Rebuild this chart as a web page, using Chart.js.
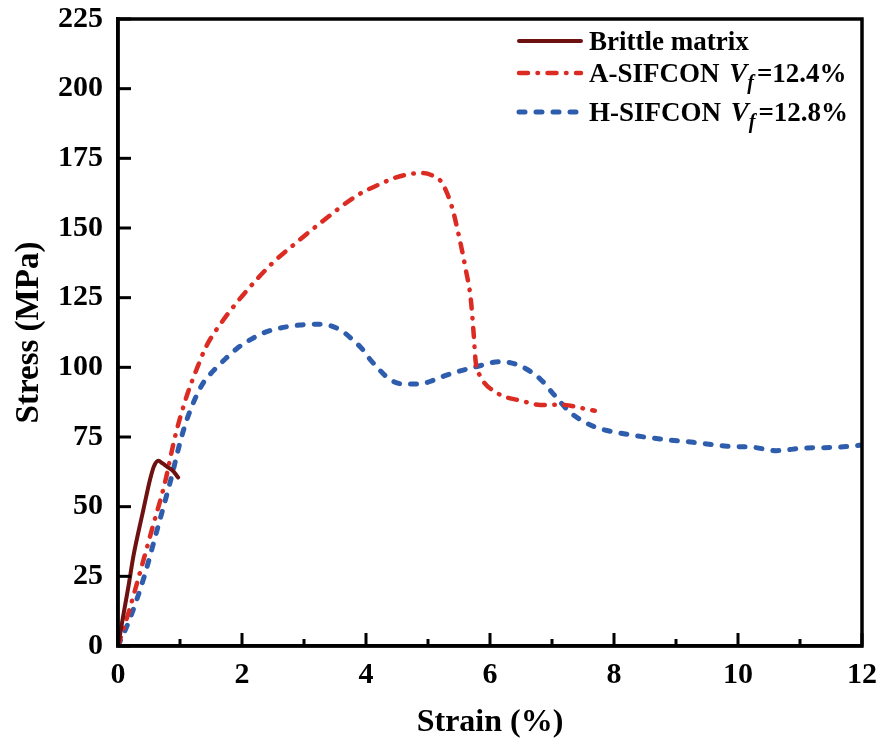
<!DOCTYPE html>
<html><head><meta charset="utf-8">
<script src="https://cdn.jsdelivr.net/npm/chart.js@4.4.0/dist/chart.umd.min.js"></script>
<style>html,body{margin:0;padding:0;background:#fff;}#wrap{width:879px;height:744px;}</style>
</head><body><div id="wrap"><canvas id="c" width="879" height="744"></canvas></div>
<script>
// ---- data ----
const xMajorTicks = [0, 2, 4, 6, 8, 10, 12];
const xMinorTicks = [1, 3, 5, 7, 9, 11];
const yMajorTicks = [0, 25, 50, 75, 100, 125, 150, 175, 200, 225];

const seriesNames = ['Brittle matrix', 'A-SIFCON', 'H-SIFCON'];
const seriesVf = ['', '12.4%', '12.8%'];

const brittleStrain = [0, 0.085, 0.17, 0.25, 0.33, 0.41, 0.52, 0.58, 0.65, 0.72, 0.8, 0.88, 0.97];
const brittleStress = [0, 10.9, 21.6, 32.4, 41, 49, 60, 64.5, 66.5, 65.5, 64.2, 63, 60.5];

const aStrain = [0, 0.17, 0.35, 0.55, 0.75, 0.93, 1.11, 1.27, 1.43, 1.67, 1.94, 2.24, 2.5, 2.77, 3.31, 3.85, 4.2, 4.49, 4.75, 4.92, 5.1, 5.22, 5.38, 5.51, 5.61, 5.69, 5.74, 5.77, 5.84, 6.1, 6.54, 6.81, 7.13, 7.56, 7.69];
const aStress = [0, 12, 26, 42, 58, 76, 89.8, 99.4, 107.8, 116.1, 123.9, 131.6, 137.6, 142.8, 152.6, 161.6, 165.5, 168.2, 169.5, 169.7, 168.5, 166.4, 158, 146, 135, 124.5, 111, 101.8, 97, 91, 87.8, 86.5, 86.6, 85, 84.4];

const hStrain = [0, 0.19, 0.41, 0.62, 0.84, 1.05, 1.24, 1.38, 1.54, 1.73, 1.91, 2.08, 2.4, 2.94, 3.26, 3.58, 3.77, 3.93, 4.06, 4.23, 4.39, 4.6, 4.87, 5.09, 5.3, 5.79, 6.16, 6.48, 6.81, 7.02, 7.29, 7.67, 8.1, 8.74, 9.28, 9.82, 10.25, 10.62, 11.05, 11.59, 12];
const hStress = [0, 9.7, 24, 40.8, 58.7, 77, 88.6, 94.6, 98.8, 103, 106.6, 109.2, 112.8, 115.2, 115.5, 113.5, 110.2, 106.8, 103, 98.8, 95.6, 94, 94, 95.4, 97.2, 100.3, 102, 100.6, 95.8, 90.5, 83.9, 78.8, 76.4, 74.3, 73.1, 71.7, 71.3, 70.1, 71, 71.3, 72.1];

const toPts = (xs, ys) => xs.map((v, i) => ({x: v, y: ys[i]}));
const FONT = "'Liberation Serif', 'Times New Roman', serif";

const framePlugin = {
  id: 'frame',
  afterDraw(chart) {
    const {ctx, chartArea: a, scales: {x, y}} = chart;
    ctx.save();
    ctx.strokeStyle = '#000';
    ctx.lineWidth = 3.5;
    ctx.strokeRect(a.left, a.top, a.right - a.left, a.bottom - a.top);
    ctx.lineWidth = 3;
    const seg = (x1, y1, x2, y2) => { ctx.beginPath(); ctx.moveTo(x1, y1); ctx.lineTo(x2, y2); ctx.stroke(); };
    xMajorTicks.forEach(v => { const p = x.getPixelForValue(v); seg(p, a.bottom, p, a.bottom - 13); });
    xMinorTicks.forEach(v => { const p = x.getPixelForValue(v); seg(p, a.bottom, p, a.bottom - 7); });
    yMajorTicks.forEach(v => { const p = y.getPixelForValue(v); seg(a.left, p, a.left + 13, p); });
    ctx.restore();
  }
};

const legendPlugin = {
  id: 'richLegend',
  afterDraw(chart) {
    const ctx = chart.ctx;
    const lineX1 = 519, lineX2 = 581, textX = 589;
    const rowsY = [41, 73, 112];
    ctx.save();
    chart.data.datasets.forEach((ds, i) => {
      const yy = rowsY[i];
      ctx.strokeStyle = ds.borderColor;
      ctx.lineWidth = ds.borderWidth;
      ctx.lineCap = 'round';
      ctx.setLineDash(ds.borderDash || []);
      ctx.beginPath(); ctx.moveTo(lineX1, yy); ctx.lineTo(lineX2, yy); ctx.stroke();
      ctx.setLineDash([]);
      ctx.fillStyle = '#000';
      ctx.textBaseline = 'alphabetic';
      let tx = textX;
      const base = yy + 9;
      const put = (txt, font, dy) => { ctx.font = font; ctx.fillText(txt, tx, base + (dy || 0)); tx += ctx.measureText(txt).width; };
      if (!seriesVf[i]) {
        put(seriesNames[i], 'bold 27px ' + FONT);
      } else {
        put(seriesNames[i] + ' ', 'bold 27px ' + FONT);
        tx += 3;
        put('V', 'italic bold 27px ' + FONT);
        put('f', 'italic bold 20px ' + FONT, 7);
        tx += 3;
        put('=' + seriesVf[i], 'bold 27px ' + FONT);
      }
    });
    ctx.restore();
  }
};

new Chart(document.getElementById('c'), {
  type: 'line',
  data: {
    datasets: [
      { label: seriesNames[0], data: toPts(brittleStrain, brittleStress), borderColor: '#6E1111', borderWidth: 4, pointRadius: 0, cubicInterpolationMode: 'monotone', fill: false, borderCapStyle: 'round' },
      { label: seriesNames[1], data: toPts(aStrain, aStress), borderColor: '#DC2B23', borderWidth: 4.5, borderDash: [9, 9.5, 0.5, 9.5], borderCapStyle: 'round', pointRadius: 0, cubicInterpolationMode: 'monotone', fill: false },
      { label: seriesNames[2], data: toPts(hStrain, hStress), borderColor: '#2F5DAE', borderWidth: 5, borderDash: [6, 11], borderCapStyle: 'round', pointRadius: 0, cubicInterpolationMode: 'monotone', fill: false }
    ]
  },
  options: {
    responsive: false,
    animation: false,
    layout: { padding: { top: 19, right: 17, left: 0, bottom: 0 } },
    plugins: { legend: { display: false }, tooltip: { enabled: false } },
    scales: {
      x: {
        type: 'linear', min: 0, max: 12,
        afterFit: s => { s.height = 98; s.paddingLeft = 0; s.paddingRight = 0; },
        afterBuildTicks: s => { s.ticks = xMajorTicks.map(v => ({value: v})); },
        ticks: { color: '#000', font: { family: FONT, size: 30, weight: 'bold' }, padding: 11, maxRotation: 0 },
        grid: { display: false, drawTicks: false },
        border: { display: true, color: '#000', width: 3.5 },
        title: { display: true, text: 'Strain (%)', color: '#000', font: { family: FONT, size: 32, weight: 'bold' }, padding: { top: 0, bottom: 2 } }
      },
      y: {
        type: 'linear', min: 0, max: 225,
        afterFit: s => { s.width = 118; s.paddingTop = 0; s.paddingBottom = 0; },
        afterBuildTicks: s => { s.ticks = yMajorTicks.map(v => ({value: v})); },
        ticks: { color: '#000', font: { family: FONT, size: 30, weight: 'bold' }, padding: 15 },
        grid: { display: false, drawTicks: false },
        border: { display: true, color: '#000', width: 3.5 },
        title: { display: true, text: 'Stress (MPa)', color: '#000', font: { family: FONT, size: 33, weight: 'bold' }, padding: { top: 10, bottom: 0 } }
      }
    }
  },
  plugins: [framePlugin, legendPlugin]
});
</script>
</body></html>
